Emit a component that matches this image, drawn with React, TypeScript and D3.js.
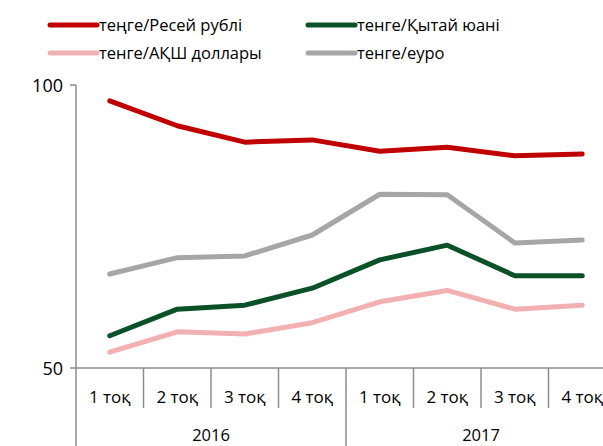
import React from "react";
import * as d3 from "d3";

const quarters = ["1 тоқ", "2 тоқ", "3 тоқ", "4 тоқ", "1 тоқ", "2 тоқ", "3 тоқ", "4 тоқ"];
const years = ["2016", "2017"];
const yTicks = [50, 100];

const rub = [97.2, 92.8, 89.9, 90.3, 88.3, 89.0, 87.5, 87.8];
const cny = [55.7, 60.4, 61.1, 64.1, 69.1, 71.7, 66.3, 66.3];
const usd = [52.8, 56.4, 56.0, 58.0, 61.7, 63.7, 60.4, 61.1];
const eur = [66.6, 69.5, 69.8, 73.5, 80.7, 80.6, 72.1, 72.6];

const seriesNames = ["теңге/Ресей рублі", "тенге/Қытай юані", "тенге/АҚШ доллары", "тенге/еуро"];
const seriesColors = ["#C00000", "#0B5128", "#F2B0B0", "#A6A6A6"];
const seriesData = [rub, cny, usd, eur];

export default function App() {
  const W = 603, H = 446;
  const left = 76, right = 616, top = 85, bottom = 368;
  const x = d3.scaleBand<number>().domain(d3.range(quarters.length)).range([left, right]);
  const y = d3.scaleLinear().domain([50, 100]).range([bottom, top]);
  const line = d3.line<number>().x((_, i) => (x(i) as number) + x.bandwidth() / 2).y((d) => y(d));
  const font = "'Open Sans', sans-serif";
  const axisColor = "#8C8C8C";
  const legendPos = [
    [50, 25],
    [308, 25],
    [50, 53],
    [308, 53],
  ];
  const bw = x.bandwidth();
  return (
    <svg width={W} height={H} style={{ position: "absolute", left: 0, top: 0, background: "#fff" }}>
      {seriesNames.map((n, i) => (
        <g key={n}>
          <line x1={legendPos[i][0]} x2={legendPos[i][0] + 47} y1={legendPos[i][1]} y2={legendPos[i][1]} stroke={seriesColors[i]} strokeWidth={5} strokeLinecap="round" />
          <text x={legendPos[i][0] + 49} y={legendPos[i][1] + 6} fontFamily={font} fontSize={16.5} fill="#000">{n}</text>
        </g>
      ))}
      <line x1={left} x2={left} y1={top} y2={H} stroke={axisColor} strokeWidth={1.5} />
      {yTicks.map((t) => (
        <g key={t}>
          <line x1={left - 6} x2={left} y1={y(t)} y2={y(t)} stroke={axisColor} strokeWidth={1.5} />
          <text x={left - 13} y={y(t) + 7} textAnchor="end" fontFamily={font} fontSize={18} fill="#000">{t}</text>
        </g>
      ))}
      <line x1={left} x2={right} y1={bottom} y2={bottom} stroke={axisColor} strokeWidth={1.5} />
      {quarters.map((q, i) => {
        const xs = (x(i) as number) + bw;
        const isYear = i === 3 || i === 7;
        return (
          <g key={i}>
            <line x1={xs} x2={xs} y1={bottom} y2={isYear ? H : 408} stroke={axisColor} strokeWidth={1.5} />
            <text x={(x(i) as number) + bw / 2} y={403} textAnchor="middle" fontFamily={font} fontSize={17} fill="#000">{q}</text>
          </g>
        );
      })}
      {years.map((yr, j) => (
        <text key={yr} x={(x(j * 4) as number) + bw * 2} y={441} textAnchor="middle" fontFamily={font} fontSize={16.5} fill="#000">{yr}</text>
      ))}
      {seriesData.map((s, i) => (
        <path key={i} d={line(s) as string} fill="none" stroke={seriesColors[i]} strokeWidth={5} strokeLinecap="round" strokeLinejoin="round" />
      ))}
    </svg>
  );
}
